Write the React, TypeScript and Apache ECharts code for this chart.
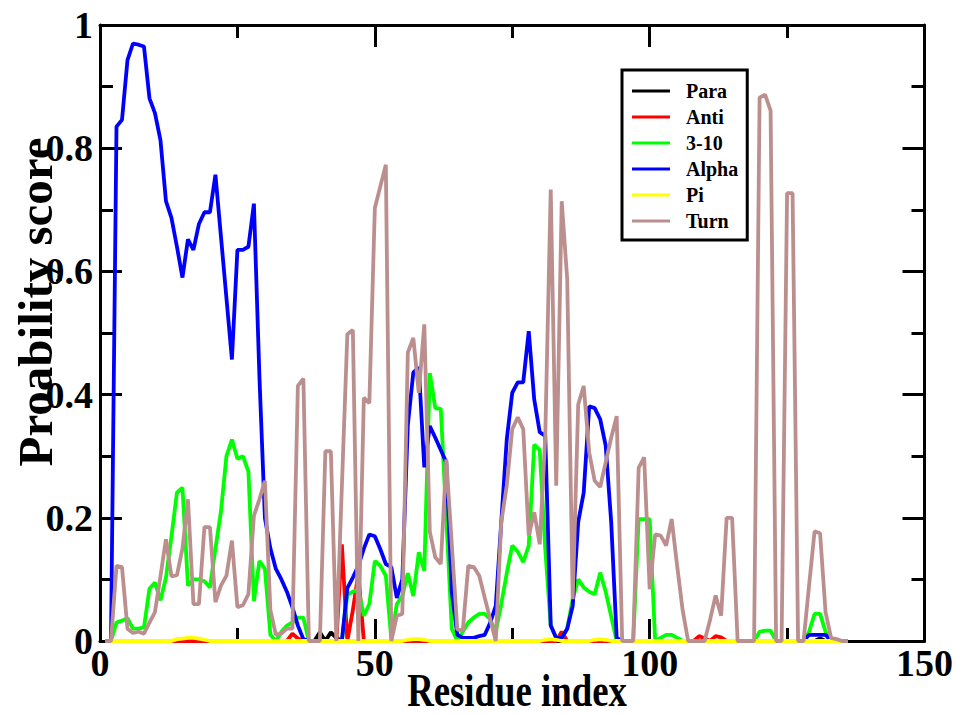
import React, { useEffect, useRef } from "react";
import * as echarts from "echarts";

// residue index 1..136
const residues: number[] = Array.from({ length: 136 }, (_, i) => i + 1);

const para: number[] = [
  0, 0, 0, 0, 0, 0, 0, 0, 0, 0,
  0, 0, 0, 0, 0, 0, 0, 0, 0, 0,
  0, 0, 0, 0, 0, 0, 0, 0, 0, 0,
  0, 0, 0, 0, 0, 0, 0, 0, 0, 0.014,
  0, 0.014, 0.005, 0, 0, 0, 0, 0, 0, 0,
  0, 0, 0, 0, 0, 0, 0, 0, 0, 0,
  0, 0, 0, 0, 0, 0, 0, 0, 0, 0,
  0, 0, 0, 0, 0, 0, 0, 0, 0, 0,
  0, 0, 0, 0, 0, 0, 0, 0, 0, 0,
  0, 0, 0, 0, 0, 0, 0, 0, 0, 0,
  0, 0, 0, 0, 0, 0, 0, 0, 0, 0,
  0, 0, 0, 0, 0, 0, 0, 0, 0, 0,
  0, 0, 0, 0, 0, 0, 0, 0, 0, 0,
  0.004, 0, 0, 0, 0, 0,
];

const anti: number[] = [
  0, 0, 0, 0, 0, 0, 0, 0, 0, 0,
  0, 0, 0, 0, 0, 0, 0, 0, 0, 0,
  0, 0, 0, 0, 0, 0, 0, 0, 0, 0,
  0, 0, 0, 0, 0.012, 0.004, 0, 0, 0, 0,
  0, 0, 0, 0.157, 0, 0.05, 0.11, 0, 0, 0,
  0, 0, 0, 0, 0, 0, 0, 0, 0, 0,
  0, 0, 0, 0, 0, 0, 0, 0, 0, 0,
  0, 0, 0, 0, 0, 0, 0, 0, 0, 0,
  0, 0, 0, 0.015, 0, 0, 0, 0, 0, 0,
  0, 0, 0, 0, 0, 0, 0, 0, 0, 0,
  0, 0, 0, 0, 0, 0, 0, 0, 0.008, 0.004,
  0, 0.008, 0.006, 0, 0, 0, 0, 0, 0, 0,
  0, 0, 0, 0, 0, 0, 0, 0, 0, 0,
  0, 0, 0, 0, 0, 0,
];

const helix310: number[] = [
  0, 0, 0.03, 0.033, 0.037, 0.02, 0.02, 0.022, 0.085, 0.095,
  0.066, 0.103, 0.17, 0.241, 0.249, 0.09, 0.1, 0.1, 0.097, 0.087,
  0.15, 0.21, 0.3, 0.327, 0.296, 0.3, 0.275, 0.065, 0.13, 0.117,
  0.01, 0, 0.015, 0.025, 0.03, 0.038, 0.038, 0, 0, 0,
  0, 0, 0, 0, 0.075, 0.08, 0.084, 0.041, 0.06, 0.13,
  0.122, 0.106, 0.003, 0.06, 0.073, 0.11, 0.073, 0.144, 0.114, 0.435,
  0.378, 0.377, 0.2, 0.02, 0, 0.015, 0.03, 0.038, 0.044, 0.044,
  0.035, 0.015, 0.06, 0.11, 0.155, 0.145, 0.128, 0.155, 0.319, 0.31,
  0.15, 0.025, 0.005, 0.005, 0.02, 0.068, 0.1, 0.087, 0.08, 0.076,
  0.111, 0.08, 0.04, 0, 0, 0, 0, 0.198, 0.198, 0.198,
  0, 0.005, 0.01, 0.01, 0.005, 0, 0, 0, 0, 0,
  0, 0, 0, 0, 0, 0, 0, 0, 0, 0.015,
  0.017, 0.017, 0, 0, 0, 0, 0, 0, 0.015, 0.044,
  0.044, 0.015, 0, 0, 0, 0,
];

const alpha: number[] = [
  0, 0, 0.835, 0.846, 0.943, 0.97, 0.968, 0.965, 0.881, 0.857,
  0.813, 0.714, 0.687, 0.64, 0.59, 0.652, 0.635, 0.677, 0.696, 0.696,
  0.757, 0.657, 0.557, 0.457, 0.635, 0.635, 0.64, 0.71, 0.43, 0.2,
  0.15, 0.117, 0.1, 0.08, 0.055, 0.025, 0.003, 0, 0, 0,
  0, 0, 0, 0, 0.086, 0.103, 0.122, 0.15, 0.173, 0.17,
  0.149, 0.125, 0.12, 0.07, 0.1, 0.35, 0.436, 0.444, 0.282, 0.349,
  0.33, 0.31, 0.29, 0.08, 0.01, 0.005, 0.005, 0.005, 0.008, 0.01,
  0.03, 0.057, 0.193, 0.327, 0.403, 0.42, 0.42, 0.503, 0.392, 0.339,
  0.333, 0.025, 0.005, 0.005, 0.02, 0.057, 0.193, 0.241, 0.381, 0.378,
  0.36, 0.317, 0.193, 0.005, 0, 0, 0, 0, 0, 0,
  0, 0, 0, 0, 0, 0, 0, 0, 0, 0,
  0, 0, 0, 0, 0, 0, 0, 0, 0, 0,
  0, 0, 0, 0, 0, 0, 0, 0, 0.01, 0.01,
  0.01, 0.01, 0, 0, 0, 0,
];

const pi: number[] = [
  0, 0, 0, 0, 0, 0, 0, 0, 0, 0,
  0, 0, 0, 0.003, 0.004, 0.005, 0.005, 0.004, 0.002, 0,
  0, 0, 0, 0, 0, 0, 0, 0, 0, 0,
  0, 0, 0, 0, 0, 0, 0, 0, 0, 0,
  0, 0, 0, 0, 0, 0, 0, 0, 0, 0,
  0, 0, 0, 0, 0, 0.002, 0.003, 0.003, 0.002, 0,
  0, 0, 0, 0, 0, 0, 0, 0, 0, 0,
  0, 0, 0, 0, 0, 0, 0, 0, 0, 0,
  0.002, 0.003, 0.002, 0, 0, 0, 0, 0, 0, 0.002,
  0.003, 0.002, 0, 0, 0, 0, 0, 0, 0, 0,
  0, 0, 0, 0, 0, 0, 0, 0, 0, 0,
  0, 0, 0, 0, 0, 0, 0, 0, 0, 0,
  0, 0, 0, 0, 0, 0, 0, 0, 0, 0,
  0, 0, 0, 0, 0, 0,
];

const turn: number[] = [
  0, 0, 0.122, 0.12, 0.02, 0.013, 0.015, 0.012, 0.03, 0.047,
  0.105, 0.165, 0.105, 0.107, 0.15, 0.23, 0.06, 0.06, 0.185, 0.185,
  0.063, 0.09, 0.106, 0.163, 0.055, 0.058, 0.076, 0.203, 0.23, 0.26,
  0.05, 0.01, 0.012, 0.02, 0.02, 0.414, 0.426, 0, 0, 0,
  0.308, 0.308, 0, 0.25, 0.498, 0.505, 0, 0.395, 0.386, 0.703,
  0.738, 0.773, 0, 0.041, 0.044, 0.468, 0.492, 0.403, 0.514, 0.177,
  0.136, 0.125, 0.295, 0.157, 0.019, 0.017, 0.122, 0.12, 0.106, 0.07,
  0.035, 0, 0.193, 0.252, 0.344, 0.363, 0.344, 0.171, 0.209, 0.157,
  0.33, 0.733, 0.252, 0.714, 0.587, 0.068, 0.384, 0.414, 0.306, 0.26,
  0.25, 0.29, 0.33, 0.365, 0, 0, 0, 0.281, 0.298, 0.084,
  0.173, 0.171, 0.155, 0.198, 0.122, 0.05, 0, 0, 0, 0,
  0.035, 0.074, 0.041, 0.2, 0.2, 0, 0, 0, 0, 0.882,
  0.887, 0.861, 0, 0, 0.727, 0.727, 0, 0, 0.09, 0.178,
  0.175, 0.047, 0.005, 0.003, 0, 0,
];

const seriesNames = ["Para", "Anti", "3-10", "Alpha", "Pi", "Turn"];
const seriesValues = [para, anti, helix310, alpha, pi, turn];
const seriesColors = ["#000000", "#ff0000", "#00ff00", "#0000ff", "#ffff00", "#bc8f8f"];

const xTicks = { min: 0, max: 150, interval: 50 };
const yTicks = { min: 0, max: 1, interval: 0.2 };

const FONT = "'Liberation Serif', 'Times New Roman', serif";

export default function App() {
  const ref = useRef<HTMLDivElement>(null);

  useEffect(() => {
    if (!ref.current) return;
    const chart = echarts.init(ref.current, undefined, { renderer: "svg" });

    const axisBase: any = {
      type: "value",
      axisLine: { show: true, onZero: false, lineStyle: { color: "#000", width: 3 } },
      axisTick: { show: true, inside: true, length: 22, lineStyle: { color: "#000", width: 3 } },
      minorTick: { show: true, splitNumber: 2, length: 13, lineStyle: { color: "#000", width: 3 } },
      splitLine: { show: false },
      minorSplitLine: { show: false },
    };
    const labelStyle = {
      color: "#000",
      fontFamily: FONT,
      fontWeight: "bold" as const,
      fontSize: 38,
    };

    const option: any = {
      animation: false,
      backgroundColor: "#ffffff",
      grid: { left: 100, right: 27, top: 25, bottom: 74, containLabel: false },
      xAxis: [
        {
          ...axisBase,
          ...xTicks,
          position: "bottom",
          axisLabel: { ...labelStyle, margin: 3 },
        },
        {
          ...axisBase,
          ...xTicks,
          position: "top",
          axisLabel: { show: false },
        },
      ],
      yAxis: [
        {
          ...axisBase,
          ...yTicks,
          position: "left",
          axisLabel: { ...labelStyle, margin: 7 },
        },
        {
          ...axisBase,
          ...yTicks,
          position: "right",
          axisLabel: { show: false },
        },
      ],
      legend: {
        data: seriesNames,
        orient: "vertical",
        left: 622,
        top: 70,
        icon: "rect",
        itemWidth: 38,
        itemHeight: 3,
        itemGap: 6,
        padding: [11, 9, 9, 10],
        borderColor: "#000",
        borderWidth: 3,
        backgroundColor: "#fff",
        textStyle: {
          color: "#000",
          fontFamily: FONT,
          fontWeight: "bold",
          fontSize: 20,
          lineHeight: 20,
          padding: [0, 0, 0, 11],
        },
      },
      graphic: [
        {
          type: "text",
          x: 35,
          y: 302,
          rotation: Math.PI / 2,
          style: {
            text: "Proability score",
            fill: "#000",
            font: `bold 49px ${FONT}`,
            textAlign: "center",
            textVerticalAlign: "middle",
          },
        },
        {
          type: "text",
          x: 517,
          y: 691,
          scaleX: 0.8,
          style: {
            text: "Residue index",
            fill: "#000",
            font: `bold 46px ${FONT}`,
            textAlign: "center",
            textVerticalAlign: "middle",
          },
        },
      ],
      series: seriesNames.map((name, i) => ({
        name,
        type: "line",
        xAxisIndex: 0,
        yAxisIndex: 0,
        showSymbol: false,
        symbol: "none",
        color: seriesColors[i],
        lineStyle: { color: seriesColors[i], width: 3.8 },
        data: residues.map((r, j) => [r, seriesValues[i][j]]),
        z: 2 + i,
      })),
    };

    chart.setOption(option);
    return () => chart.dispose();
  }, []);

  return (
    <div
      ref={ref}
      style={{ position: "absolute", left: 0, top: 0, width: 956, height: 715, background: "#fff" }}
    />
  );
}
